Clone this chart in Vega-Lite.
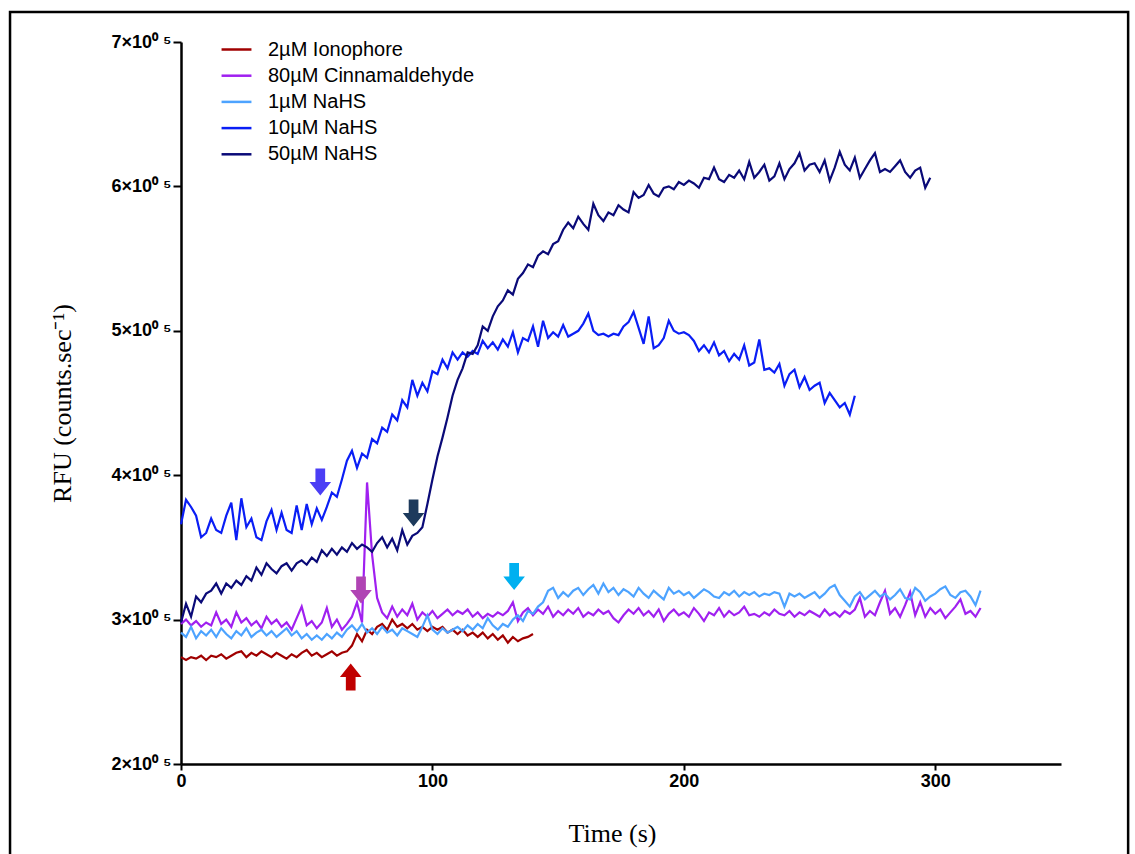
{
"$schema": "https://vega.github.io/schema/vega-lite/v6.json",
"width": 880, "height": 722,
"autosize": "none",
"padding": {"left": 181, "top": 42, "right": 74, "bottom": 90},
"background": "white",
"config": {"view": {"stroke": null}, "font": "Liberation Sans"},
"datasets": {
"traces": [
{"t":0,"a":274000,"b":297000,"c":291000,"d":366000,"e":298000},
{"t":2,"a":272000,"b":300000,"c":288000,"d":383000,"e":311000},
{"t":4,"a":274000,"b":296000,"c":295000,"d":378000,"e":302000},
{"t":6,"a":273000,"b":299000,"c":287000,"d":372000,"e":316000},
{"t":8,"a":275000,"b":295000,"c":292000,"d":357000,"e":312000},
{"t":10,"a":272000,"b":298000,"c":289000,"d":360000,"e":318000},
{"t":12,"a":275000,"b":296000,"c":293000,"d":370000,"e":320000},
{"t":14,"a":274000,"b":305000,"c":288000,"d":362000,"e":325000},
{"t":16,"a":276000,"b":297000,"c":294000,"d":360000,"e":318000},
{"t":18,"a":273000,"b":300000,"c":290000,"d":372000,"e":325000},
{"t":20,"a":275000,"b":295000,"c":287000,"d":381000,"e":322000},
{"t":22,"a":277000,"b":305000,"c":292000,"d":355000,"e":327000},
{"t":24,"a":278000,"b":298000,"c":289000,"d":384000,"e":324000},
{"t":26,"a":274000,"b":301000,"c":294000,"d":364000,"e":330000},
{"t":28,"a":277000,"b":296000,"c":288000,"d":370000,"e":327000},
{"t":30,"a":275000,"b":299000,"c":291000,"d":357000,"e":336000},
{"t":32,"a":278000,"b":294000,"c":293000,"d":355000,"e":331000},
{"t":34,"a":276000,"b":302000,"c":289000,"d":368000,"e":339000},
{"t":36,"a":274000,"b":297000,"c":292000,"d":376000,"e":335000},
{"t":38,"a":277000,"b":300000,"c":288000,"d":362000,"e":332000},
{"t":40,"a":275000,"b":295000,"c":291000,"d":374000,"e":337000},
{"t":42,"a":273000,"b":298000,"c":294000,"d":362000,"e":339000},
{"t":44,"a":276000,"b":293000,"c":289000,"d":360000,"e":334000},
{"t":46,"a":274000,"b":301000,"c":292000,"d":379000,"e":339000},
{"t":48,"a":277000,"b":309000,"c":287000,"d":362000,"e":341000},
{"t":50,"a":279000,"b":296000,"c":290000,"d":380000,"e":338000},
{"t":52,"a":275000,"b":299000,"c":286000,"d":366000,"e":343000},
{"t":54,"a":277000,"b":294000,"c":289000,"d":377000,"e":340000},
{"t":56,"a":274000,"b":298000,"c":286000,"d":369000,"e":348000},
{"t":58,"a":276000,"b":308000,"c":290000,"d":378000,"e":344000},
{"t":60,"a":278000,"b":295000,"c":287000,"d":388000,"e":349000},
{"t":62,"a":275000,"b":300000,"c":291000,"d":385000,"e":345000},
{"t":64,"a":277000,"b":293000,"c":288000,"d":397000,"e":350000},
{"t":66,"a":278000,"b":297000,"c":293000,"d":410000,"e":347000},
{"t":68,"a":282000,"b":302000,"c":296000,"d":417000,"e":353000},
{"t":70,"a":290000,"b":312000,"c":292000,"d":405000,"e":349000},
{"t":72,"a":285000,"b":298000,"c":297000,"d":415000,"e":352000},
{"t":74,"a":293000,"b":395000,"c":291000,"d":412000,"e":350000},
{"t":76,"a":290000,"b":345000,"c":294000,"d":425000,"e":347000},
{"t":78,"a":295000,"b":315000,"c":290000,"d":422000,"e":353000},
{"t":80,"a":297000,"b":305000,"c":295000,"d":433000,"e":357000},
{"t":82,"a":293000,"b":301000,"c":291000,"d":430000,"e":350000},
{"t":84,"a":300000,"b":309000,"c":293000,"d":442000,"e":356000},
{"t":86,"a":295000,"b":302000,"c":289000,"d":438000,"e":348000},
{"t":88,"a":297000,"b":307000,"c":294000,"d":452000,"e":362000},
{"t":90,"a":294000,"b":303000,"c":292000,"d":447000,"e":352000},
{"t":92,"a":297000,"b":311000,"c":290000,"d":466000,"e":358000},
{"t":94,"a":293000,"b":300000,"c":288000,"d":455000,"e":360000},
{"t":96,"a":295000,"b":305000,"c":295000,"d":464000,"e":364000},
{"t":98,"a":292000,"b":302000,"c":303000,"d":458000,"e":380000},
{"t":100,"a":295000,"b":306000,"c":293000,"d":472000,"e":397000},
{"t":102,"a":293000,"b":301000,"c":290000,"d":470000,"e":413000},
{"t":104,"a":295000,"b":304000,"c":294000,"d":480000,"e":426000},
{"t":106,"a":291000,"b":307000,"c":291000,"d":474000,"e":440000},
{"t":108,"a":293000,"b":303000,"c":293000,"d":485000,"e":455000},
{"t":110,"a":290000,"b":306000,"c":295000,"d":480000,"e":466000},
{"t":112,"a":293000,"b":304000,"c":292000,"d":485000,"e":474000},
{"t":114,"a":289000,"b":307000,"c":296000,"d":482000,"e":485000},
{"t":116,"a":291000,"b":302000,"c":293000,"d":486000,"e":484000},
{"t":118,"a":288000,"b":305000,"c":297000,"d":484000,"e":490000},
{"t":120,"a":291000,"b":301000,"c":294000,"d":493000,"e":503000},
{"t":122,"a":287000,"b":304000,"c":301000,"d":488000,"e":500000},
{"t":124,"a":290000,"b":302000,"c":296000,"d":492000,"e":510000},
{"t":126,"a":286000,"b":305000,"c":293000,"d":487000,"e":517000},
{"t":128,"a":289000,"b":303000,"c":297000,"d":494000,"e":521000},
{"t":130,"a":284000,"b":306000,"c":295000,"d":489000,"e":528000},
{"t":132,"a":288000,"b":312000,"c":300000,"d":499000,"e":525000},
{"t":134,"a":285000,"b":299000,"c":303000,"d":485000,"e":536000},
{"t":136,"a":287000,"b":305000,"c":299000,"d":495000,"e":540000},
{"t":138,"a":288000,"b":308000,"c":306000,"d":493000,"e":546000},
{"t":140,"a":290000,"b":303000,"c":304000,"d":503000,"e":544000},
{"t":142,"b":307000,"c":309000,"d":489000,"e":552000},
{"t":144,"b":304000,"c":312000,"d":507000,"e":555000},
{"t":146,"b":309000,"c":320000,"d":495000,"e":553000},
{"t":148,"b":302000,"c":322000,"d":499000,"e":560000},
{"t":150,"b":306000,"c":315000,"d":496000,"e":562000},
{"t":152,"b":303000,"c":319000,"d":504000,"e":570000},
{"t":154,"b":307000,"c":316000,"d":496000,"e":575000},
{"t":156,"b":304000,"c":320000,"d":498000,"e":571000},
{"t":158,"b":308000,"c":322000,"d":500000,"e":579000},
{"t":160,"b":302000,"c":317000,"d":505000,"e":574000},
{"t":162,"b":305000,"c":321000,"d":512000,"e":570000},
{"t":164,"b":303000,"c":324000,"d":500000,"e":588000},
{"t":166,"b":307000,"c":318000,"d":497000,"e":580000},
{"t":168,"b":304000,"c":325000,"d":498000,"e":576000},
{"t":170,"b":306000,"c":319000,"d":496000,"e":582000},
{"t":172,"b":301000,"c":322000,"d":498000,"e":580000},
{"t":174,"b":298000,"c":317000,"d":497000,"e":587000},
{"t":176,"b":303000,"c":321000,"d":503000,"e":584000},
{"t":178,"b":307000,"c":319000,"d":506000,"e":582000},
{"t":180,"b":304000,"c":316000,"d":513000,"e":596000},
{"t":182,"b":308000,"c":322000,"d":502000,"e":592000},
{"t":184,"b":303000,"c":318000,"d":491000,"e":594000},
{"t":186,"b":306000,"c":315000,"d":510000,"e":601000},
{"t":188,"b":302000,"c":320000,"d":488000,"e":595000},
{"t":190,"b":307000,"c":317000,"d":490000,"e":593000},
{"t":192,"b":299000,"c":314000,"d":495000,"e":599000},
{"t":194,"b":304000,"c":322000,"d":507000,"e":600000},
{"t":196,"b":307000,"c":318000,"d":500000,"e":598000},
{"t":198,"b":303000,"c":320000,"d":498000,"e":603000},
{"t":200,"b":305000,"c":317000,"d":499000,"e":601000},
{"t":202,"b":302000,"c":319000,"d":497000,"e":604000},
{"t":204,"b":308000,"c":315000,"d":493000,"e":602000},
{"t":206,"b":304000,"c":318000,"d":486000,"e":599000},
{"t":208,"b":299000,"c":321000,"d":490000,"e":606000},
{"t":210,"b":305000,"c":319000,"d":485000,"e":605000},
{"t":212,"b":303000,"c":316000,"d":492000,"e":613000},
{"t":214,"b":308000,"c":315000,"d":483000,"e":605000},
{"t":216,"b":302000,"c":319000,"d":486000,"e":603000},
{"t":218,"b":306000,"c":317000,"d":479000,"e":608000},
{"t":220,"b":303000,"c":320000,"d":484000,"e":606000},
{"t":222,"b":305000,"c":316000,"d":480000,"e":611000},
{"t":224,"b":309000,"c":319000,"d":490000,"e":605000},
{"t":226,"b":303000,"c":317000,"d":476000,"e":617000},
{"t":228,"b":304000,"c":319000,"d":478000,"e":606000},
{"t":230,"b":302000,"c":316000,"d":494000,"e":610000},
{"t":232,"b":305000,"c":318000,"d":473000,"e":615000},
{"t":234,"b":303000,"c":317000,"d":474000,"e":604000},
{"t":236,"b":307000,"c":319000,"d":471000,"e":607000},
{"t":238,"b":304000,"c":318000,"d":477000,"e":616000},
{"t":240,"b":303000,"c":309000,"d":462000,"e":605000},
{"t":242,"b":306000,"c":318000,"d":470000,"e":612000},
{"t":244,"b":302000,"c":316000,"d":473000,"e":616000},
{"t":246,"b":305000,"c":318000,"d":461000,"e":623000},
{"t":248,"b":303000,"c":315000,"d":468000,"e":611000},
{"t":250,"b":306000,"c":317000,"d":459000,"e":615000},
{"t":252,"b":304000,"c":319000,"d":462000,"e":616000},
{"t":254,"b":302000,"c":315000,"d":464000,"e":610000},
{"t":256,"b":307000,"c":318000,"d":450000,"e":618000},
{"t":258,"b":303000,"c":322000,"d":457000,"e":604000},
{"t":260,"b":305000,"c":324000,"d":452000,"e":613000},
{"t":262,"b":302000,"c":317000,"d":447000,"e":624000},
{"t":264,"b":306000,"c":313000,"d":450000,"e":615000},
{"t":266,"b":304000,"c":309000,"d":442000,"e":611000},
{"t":268,"b":307000,"c":316000,"d":455000,"e":620000},
{"t":270,"b":315000,"c":319000,"e":606000},
{"t":272,"b":302000,"c":314000,"e":612000},
{"t":274,"b":306000,"c":317000,"e":618000},
{"t":276,"b":303000,"c":320000,"e":623000},
{"t":278,"b":312000,"c":316000,"e":610000},
{"t":280,"b":320000,"c":318000,"e":612000},
{"t":282,"b":304000,"c":314000,"e":610000},
{"t":284,"b":308000,"c":317000,"e":614000},
{"t":286,"b":302000,"c":321000,"e":618000},
{"t":288,"b":310000,"c":315000,"e":610000},
{"t":290,"b":319000,"c":314000,"e":606000},
{"t":292,"b":303000,"c":322000,"e":611000},
{"t":294,"b":312000,"c":319000,"e":613000},
{"t":296,"b":302000,"c":313000,"e":599000},
{"t":298,"b":308000,"c":316000,"e":606000},
{"t":300,"b":304000,"c":318000},
{"t":302,"b":307000,"c":321000},
{"t":304,"b":301000,"c":323000},
{"t":306,"b":305000,"c":317000},
{"t":308,"b":309000,"c":315000},
{"t":310,"b":314000,"c":319000},
{"t":312,"b":304000,"c":320000},
{"t":314,"b":306000,"c":316000},
{"t":316,"b":302000,"c":310000},
{"t":318,"b":308000,"c":320000}
],
"arrows": [
{"t":55.4,"rfu":395300,"dir":"down","target":"10µM NaHS"},
{"t":92.5,"rfu":373800,"dir":"down","target":"50µM NaHS"},
{"t":71.6,"rfu":320500,"dir":"down","target":"80µM Cinnamaldehyde"},
{"t":67.5,"rfu":260200,"dir":"up","target":"2µM Ionophore"},
{"t":132.5,"rfu":329800,"dir":"down","target":"1µM NaHS"}
]
},
"layer": [
{
"data": {"values": [{"frame": "figure border"}]},
"mark": {"type": "rect", "fill": null, "filled": false, "stroke": "black", "strokeWidth": 2.5, "clip": false},
"encoding": {
"x": {"datum": -68, "type": "quantitative"},
"x2": {"datum": 376.7},
"y": {"datum": 720800, "type": "quantitative"},
"y2": {"datum": 105800}
}
},
{
"data": {"name": "traces"},
"transform": [
{"fold": ["a","b","c","d","e"], "as": ["series","rfu"]},
{"filter": "isValid(datum.rfu)"}
],
"mark": {"type": "line", "strokeWidth": 2.2, "strokeJoin": "miter"},
"encoding": {
"x": {"field": "t", "type": "quantitative",
"scale": {"domain": [0, 350], "nice": false, "zero": false},
"axis": {"values": [0,100,200,300], "title": "Time (s)", "grid": false, "labelFlush": false,
"labelFont": "Liberation Sans", "labelFontWeight": "bold", "labelFontSize": 18, "labelColor": "black",
"labelPadding": 2, "tickSize": 6, "tickWidth": 2, "tickColor": "black",
"domainColor": "black", "domainWidth": 2.5,
"titleFont": "Liberation Serif", "titleFontSize": 26, "titleFontWeight": "normal", "titleColor": "black",
"titleX": 431, "titleY": 69, "titleBaseline": "middle", "titleAlign": "center"}},
"y": {"field": "rfu", "type": "quantitative",
"scale": {"domain": [200000, 700000], "nice": false, "zero": false},
"axis": {"values": [200000,300000,400000,500000,600000,700000], "title": "RFU (counts.sec⁻¹)", "grid": false, "labelFlush": false,
"labelExpr": "format(datum.value/100000,'d') + '×10⁰ ⁵'",
"labelFont": "Liberation Sans", "labelFontWeight": "bold", "labelFontSize": 18, "labelColor": "black",
"labelPadding": 2, "tickSize": 8, "tickWidth": 2, "tickColor": "black",
"domainColor": "black", "domainWidth": 2.5,
"titleFont": "Liberation Serif", "titleFontSize": 26, "titleFontWeight": "normal", "titleColor": "black",
"titleX": -119, "titleY": 361, "titleBaseline": "middle", "titleAlign": "center"}},
"color": {"field": "series", "type": "nominal",
"scale": {"domain": ["a","b","c","d","e"], "range": ["#a00000","#a020f0","#4da3ff","#0a1ef5","#0a0a78"]},
"legend": {"orient": "none", "legendX": 41, "legendY": -7, "title": null, "labelLimit": 0,
"labelExpr": "{'a':'2µM Ionophore','b':'80µM Cinnamaldehyde','c':'1µM NaHS','d':'10µM NaHS','e':'50µM NaHS'}[datum.label]",
"labelFont": "Liberation Sans", "labelFontSize": 20, "labelColor": "black", "labelOffset": 17,
"symbolType": "M-1.15,0H1.15", "symbolSize": 676, "symbolStrokeWidth": 2.5, "rowPadding": 1.2, "padding": 0}}
}
},
{
"data": {"name": "arrows"},
"mark": {"type": "point", "filled": true, "opacity": 1, "size": 729},
"encoding": {
"x": {"field": "t", "type": "quantitative"},
"y": {"field": "rfu", "type": "quantitative"},
"shape": {"field": "dir", "type": "nominal",
"scale": {"domain": ["down","up"], "range": ["M-0.36,-1L0.36,-1L0.36,0L0.8,0L0,1L-0.8,0L-0.36,0Z", "M-0.36,1L0.36,1L0.36,0L0.8,0L0,-1L-0.8,0L-0.36,0Z"]},
"legend": null},
"color": {"field": "target", "type": "nominal",
"scale": {"domain": ["2µM Ionophore","80µM Cinnamaldehyde","1µM NaHS","10µM NaHS","50µM NaHS"], "range": ["#c00000","#b044b4","#00b0f0","#4b3ef5","#1d3a5c"]},
"legend": null}
}
}
],
"resolve": {"scale": {"color": "independent"}}
}
